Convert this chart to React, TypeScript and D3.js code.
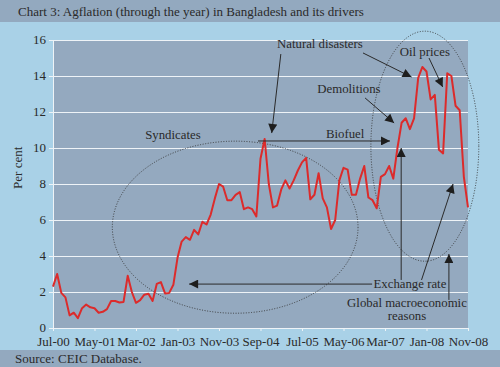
import React, { useEffect, useRef } from 'react';
import * as d3 from 'd3';

// monthly agflation, Jul-00 .. Nov-08 (per cent)
const values = [
  2.3, 3.0, 1.95, 1.7, 0.7, 0.85, 0.55, 1.1, 1.3, 1.15,
  1.1, 0.85, 0.9, 1.05, 1.5, 1.5, 1.42, 1.45, 2.9, 2.0,
  1.4, 1.55, 1.85, 1.9, 1.5, 2.45, 2.55, 1.92, 1.95, 2.4,
  3.9, 4.8, 5.05, 4.9, 5.45, 5.2, 5.9, 5.75, 6.3, 7.2,
  8.0, 7.85, 7.1, 7.1, 7.4, 7.55, 6.6, 6.7, 6.6, 6.2,
  9.4, 10.5, 8.0, 6.7, 6.8, 7.7, 8.2, 7.75, 8.2, 8.75,
  9.2, 9.45, 7.15, 7.4, 8.6, 7.2, 6.7, 5.5, 6.0, 8.2,
  8.9, 8.8, 7.4, 7.4, 8.3, 9.0, 7.25, 7.1, 6.65, 8.4,
  8.55, 9.0, 8.3, 10.0, 11.4, 11.65, 11.05, 11.65, 13.9, 14.5,
  14.25, 12.7, 12.95, 9.9, 9.7, 14.15, 14.0, 12.35, 12.1, 8.4,
  6.7,
];

const tickLabels = ['Jul-00', 'May-01', 'Mar-02', 'Jan-03', 'Nov-03', 'Sep-04', 'Jul-05', 'May-06', 'Mar-07', 'Jan-08', 'Nov-08'];
const yTicks = [0, 2, 4, 6, 8, 10, 12, 14, 16];

// annotations in data space: x = month index, y = per cent
const notes = [
  { text: 'Syndicates', x: 28.9, y: 10.5 },
  { text: 'Natural disasters', x: 64.3, y: 15.56 },
  { text: 'Oil prices', x: 89.6, y: 15.1 },
  { text: 'Demolitions', x: 71.3, y: 13.06 },
  { text: 'Biofuel', x: 70.4, y: 10.56 },
  { text: 'Exchange rate', x: 86.0, y: 2.22 },
  { text: 'Global macroeconomic', x: 85.3, y: 1.17 },
  { text: 'reasons', x: 85.3, y: 0.45 },
];

const arrows = [
  [54.9, 15.22, 52.7, 10.83],
  [74.7, 15.28, 86.4, 13.94],
  [90.6, 15.0, 93.9, 13.39],
  [75.2, 12.78, 82.2, 11.39],
  [49.4, 10.39, 81.2, 10.39],
  [76.9, 2.44, 32.8, 2.44],
  [83.9, 2.67, 83.9, 10.0],
  [88.8, 2.67, 96.4, 8.0],
  [95.4, 1.56, 95.4, 4.11],
];

const ellipses = [
  { cx: 43.9, cy: 5.6, rx: 29.6, ry: 4.78 },
  { cx: 89.6, cy: 10.1, rx: 13.0, ry: 6.39 },
];

const App = () => {
  const svgRef = useRef(null);

  useEffect(() => {
    const svg = d3.select(svgRef.current);
    svg.selectAll('*').remove();

    const width = 500;
    const height = 367;
    const marginTop = 40;
    const marginLeft = 53;
    const marginRight = 32;
    const marginBottom = 39;
    const font = '"Liberation Serif", "Times New Roman", serif';
    const ink = '#2a2a2a';

    const x = d3.scaleLinear([0, values.length - 1], [marginLeft, width - marginRight]);
    const y = d3.scaleLinear([0, 16], [height - marginBottom, marginTop]);

    svg.append('rect').attr('width', width).attr('height', height).attr('fill', '#a9d1e7');
    svg.append('rect').attr('width', width).attr('height', 22).attr('fill', '#93a9bf');
    svg.append('rect').attr('y', 350).attr('width', width).attr('height', 17).attr('fill', '#93a9bf');

    svg.append('text')
      .attr('x', 18).attr('y', 15.5)
      .attr('font-family', font).attr('font-size', 13).attr('fill', ink)
      .text('Chart 3: Agflation (through the year) in Bangladesh and its drivers');
    svg.append('text')
      .attr('x', 15).attr('y', 363)
      .attr('font-family', font).attr('font-size', 13).attr('fill', ink)
      .text('Source: CEIC Database.');

    svg.append('rect')
      .attr('x', x(0)).attr('y', y(16))
      .attr('width', x(100) - x(0)).attr('height', y(0) - y(16))
      .attr('fill', '#94a9bf');

    svg.append('g')
      .attr('transform', `translate(${marginLeft},0)`)
      .call(d3.axisLeft(y).tickValues(yTicks).tickSize(4).tickPadding(3))
      .call(g => g.select('.domain').attr('stroke', '#eef3f7'))
      .call(g => g.selectAll('.tick line').attr('stroke', '#eef3f7'))
      .call(g => g.selectAll('.tick line').clone()
        .attr('x2', width - marginLeft - marginRight)
        .attr('stroke', '#eef3f7').attr('stroke-width', 1.2))
      .call(g => g.selectAll('.tick text')
        .attr('dy', '0.26em')
        .attr('font-family', font).attr('font-size', 13).attr('fill', ink));

    svg.append('g')
      .attr('transform', `translate(0,${height - marginBottom})`)
      .call(d3.axisBottom(x)
        .tickValues(tickLabels.map((_, i) => i * 10))
        .tickFormat((_, i) => tickLabels[i])
        .tickSize(3).tickPadding(6))
      .call(g => g.select('.domain').attr('stroke', '#eef3f7'))
      .call(g => g.selectAll('.tick line').attr('stroke', '#eef3f7'))
      .call(g => g.selectAll('.tick text')
        .attr('font-family', font).attr('font-size', 13).attr('fill', ink));

    svg.append('text')
      .attr('transform', `translate(22,${y(8.9)}) rotate(-90)`)
      .attr('text-anchor', 'middle')
      .attr('font-family', font).attr('font-size', 13).attr('fill', ink)
      .text('Per cent');

    svg.selectAll('ellipse.ring')
      .data(ellipses)
      .join('ellipse')
      .attr('cx', d => x(d.cx)).attr('cy', d => y(d.cy))
      .attr('rx', d => x(d.rx) - x(0)).attr('ry', d => y(0) - y(d.ry))
      .attr('fill', 'none').attr('stroke', '#333')
      .attr('stroke-width', 0.9).attr('stroke-dasharray', '1 1.6');

    const line = d3.line()
      .x((_, i) => x(i))
      .y(d => y(d));

    svg.append('path')
      .attr('fill', 'none')
      .attr('stroke', '#dc2b2b')
      .attr('stroke-width', 2)
      .attr('stroke-linejoin', 'round')
      .attr('d', line(values));

    svg.append('defs').append('marker')
      .attr('id', 'head')
      .attr('viewBox', '0 0 10 10')
      .attr('refX', 10).attr('refY', 5)
      .attr('markerWidth', 10).attr('markerHeight', 9)
      .attr('markerUnits', 'userSpaceOnUse')
      .attr('orient', 'auto')
      .append('path')
      .attr('d', 'M0,0L10,5L0,10z')
      .attr('fill', '#1e1e1e');

    svg.selectAll('line.arrow')
      .data(arrows)
      .join('line')
      .attr('x1', d => x(d[0])).attr('y1', d => y(d[1]))
      .attr('x2', d => x(d[2])).attr('y2', d => y(d[3]))
      .attr('stroke', '#2a2a2a').attr('stroke-width', 1)
      .attr('marker-end', 'url(#head)');

    svg.selectAll('text.note')
      .data(notes)
      .join('text')
      .attr('x', d => x(d.x)).attr('y', d => y(d.y))
      .attr('text-anchor', 'middle')
      .attr('font-family', font).attr('font-size', 12.8).attr('fill', ink)
      .text(d => d.text);
  }, []);

  return (
    <svg
      ref={svgRef}
      width={500}
      height={367}
      style={{ position: 'fixed', top: 0, left: 0, display: 'block' }}
    />
  );
};

export default App;
